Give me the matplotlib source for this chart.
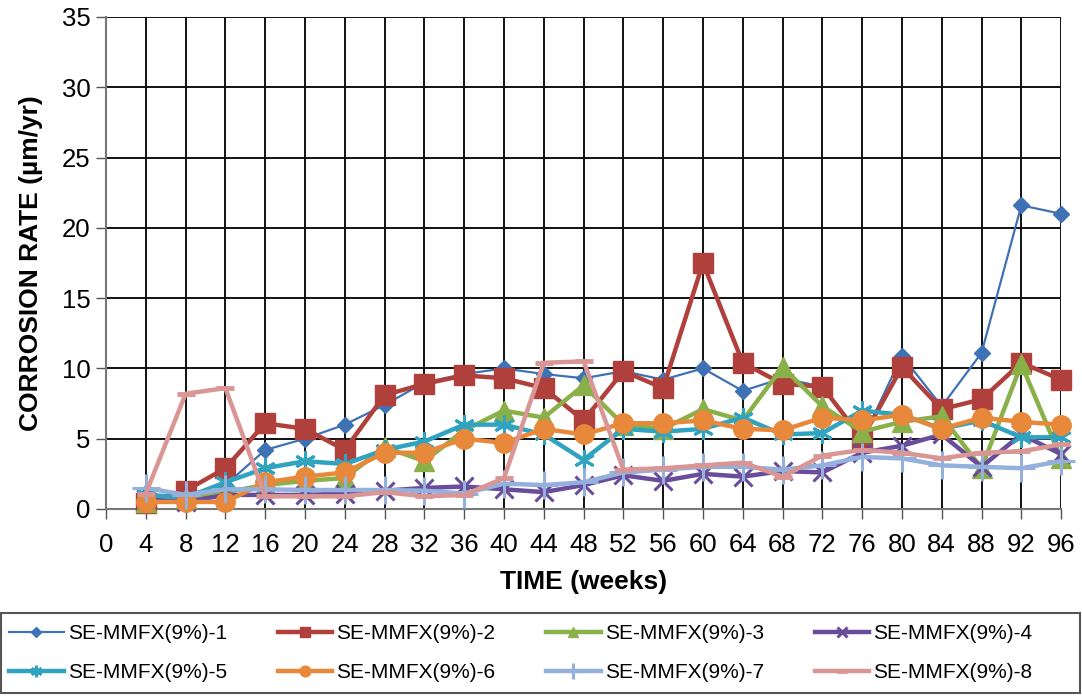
import matplotlib
matplotlib.use("Agg")
import matplotlib.pyplot as plt
from matplotlib.patches import Rectangle

plt.rcParams['font.family'] = ['Liberation Sans', 'DejaVu Sans']

weeks = [4, 8, 12, 16, 20, 24, 28, 32, 36, 40, 44, 48, 52, 56, 60, 64, 68, 72, 76, 80, 84, 88, 92, 96]

s1 = [1.0, 1.0, 1.7, 4.2, 5.0, 6.0, 7.4, 9.0, 9.6, 10.0, 9.6, 9.3, 9.8, 9.2, 10.0, 8.4, 9.3, 8.7, 4.9, 10.9, 7.3, 11.1, 21.6, 21.0]
s2 = [0.4, 1.3, 2.9, 6.1, 5.7, 4.2, 8.1, 8.9, 9.5, 9.3, 8.6, 6.3, 9.8, 8.6, 17.5, 10.4, 8.9, 8.7, 5.0, 10.1, 7.1, 7.8, 10.4, 9.2]
s3 = [0.5, 0.8, 1.2, 1.7, 2.0, 2.2, 4.4, 3.4, 5.6, 7.0, 6.5, 8.8, 6.0, 5.7, 7.1, 6.3, 10.1, 7.3, 5.5, 6.2, 6.6, 2.9, 10.3, 3.6]
s4 = [0.7, 0.5, 1.0, 1.0, 1.0, 1.1, 1.3, 1.5, 1.6, 1.4, 1.2, 1.7, 2.4, 2.0, 2.5, 2.3, 2.7, 2.6, 4.0, 4.5, 5.3, 3.0, 5.3, 3.9]
s5 = [1.0, 0.8, 1.9, 2.9, 3.4, 3.2, 4.2, 4.8, 6.0, 6.0, 5.3, 3.5, 5.7, 5.5, 5.7, 6.5, 5.3, 5.4, 7.0, 6.7, 5.7, 6.3, 5.1, 5.1]
s6 = [0.5, 0.5, 0.5, 1.9, 2.3, 2.6, 4.0, 4.0, 5.0, 4.7, 5.7, 5.3, 6.1, 6.1, 6.3, 5.7, 5.6, 6.5, 6.3, 6.7, 5.7, 6.5, 6.2, 6.0]
s7 = [1.5, 1.0, 1.4, 1.4, 1.35, 1.35, 1.35, 1.3, 1.1, 1.8, 1.7, 1.9, 2.6, 2.8, 3.0, 3.0, 2.8, 3.1, 3.7, 3.6, 3.1, 3.0, 2.9, 3.4]
s8 = [1.1, 8.2, 8.6, 0.9, 0.9, 0.9, 1.2, 0.9, 1.0, 2.2, 10.4, 10.5, 2.8, 2.9, 3.1, 3.3, 2.3, 3.8, 4.2, 4.0, 3.6, 4.0, 4.1, 4.6]

labels = ["SE-MMFX(9%)-1", "SE-MMFX(9%)-2", "SE-MMFX(9%)-3", "SE-MMFX(9%)-4",
          "SE-MMFX(9%)-5", "SE-MMFX(9%)-6", "SE-MMFX(9%)-7", "SE-MMFX(9%)-8"]
xticks = list(range(0, 97, 4))
yticks = list(range(0, 36, 5))

series = [s1, s2, s3, s4, s5, s6, s7, s8]
colors = ['#3F72B5', '#B0403C', '#8AB04A', '#6A4C9C', '#2FA3BF', '#E8883A', '#94B0DD', '#D99694']
markers = ['D', 's', '^', 'x', (6, 2, 0), 'o', '+', '_']
msizes = [8.5, 14, 14, 13, 15, 14, 20, 13]
lws = [1.6, 3.2, 3.2, 3.2, 3.2, 3.2, 3.2, 3.2]
mews = [1, 1, 1, 2.2, 2.2, 1, 2.2, 3.5]

fig = plt.figure(figsize=(10.82, 6.96), dpi=100)
ax = fig.add_axes([0.098, 0.2687, 0.8827, 0.7069])

handles = []
for i in range(8):
    h, = ax.plot(weeks, series[i], color=colors[i], lw=lws[i], marker=markers[i],
                 ms=msizes[i], mew=mews[i], mec=colors[i], mfc=colors[i],
                 label=labels[i], zorder=3 + i * 0.1, clip_on=False)
    handles.append(h)

ax.set_xlim(0, 96)
ax.set_ylim(0, 35)
ax.set_xticks(xticks)
ax.set_yticks(yticks)
ax.grid(True, color='#111111', lw=1.4, zorder=0)
ax.set_axisbelow(True)
for sp in ['top', 'right']:
    ax.spines[sp].set_visible(False)
for sp in ['left', 'bottom']:
    ax.spines[sp].set_color('#777777')
    ax.spines[sp].set_linewidth(1.5)
ax.tick_params(axis='both', labelsize=18.5, direction='out', length=7, color='#555555', width=1)
ax.tick_params(axis='x', pad=10)
ax.tick_params(axis='y', pad=4)
ax.set_xlabel('TIME (weeks)', fontsize=19, fontweight='bold', labelpad=10)
ax.set_ylabel('CORROSION RATE (µm/yr)', fontsize=19, fontweight='bold', labelpad=14)

# legend frame spanning the full width
W, H = 1082.0, 696.0
fig.patches.append(Rectangle((0.5 / W, 3 / H), 1079 / W, 610 / H * 0 + (693 - 613) / H,
                             transform=fig.transFigure, fill=False,
                             edgecolor='#555555', lw=1.5, zorder=1))

ncol = 4
lorder = [0, 4, 1, 5, 2, 6, 3, 7]
leg = fig.legend(handles=[handles[k] for k in lorder], labels=[labels[k] for k in lorder],
                 ncol=ncol, loc='center left',
                 bbox_to_anchor=(0.0, 1 - 653 / H),
                 fontsize=15, frameon=False, handlelength=2.6,
                 handletextpad=0.2, borderaxespad=0.0, markerscale=0.55,
                 labelspacing=0.94, borderpad=0.45, columnspacing=2.45)

fig.savefig('out.png', dpi=100)
